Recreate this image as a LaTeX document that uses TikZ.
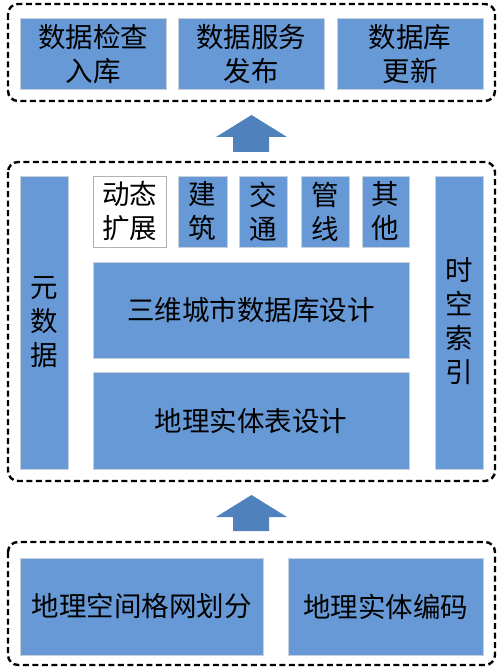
\documentclass[tikz,border=0pt]{standalone}
\usepackage{fontspec}
\setmainfont{Noto Sans CJK SC}
\newfontfamily\cjk{Noto Sans CJK SC}
\definecolor{boxblue}{RGB}{102,153,214}
\definecolor{arrowblue}{RGB}{79,129,189}
\definecolor{edgegray}{RGB}{200,208,220}
\begin{document}
\begin{tikzpicture}[x=1pt,y=-1pt,
  group/.style={draw=black,line width=2.4pt,dash pattern=on 6pt off 3.5pt,rounded corners=10pt},
  bluebox/.style={fill=boxblue,draw=edgegray,line width=0.8pt},
  whitebox/.style={fill=white,draw=gray!60,line width=0.8pt},
  lbl/.style={font=\cjk\fontsize{27.5}{34}\selectfont,align=center,text=black,inner sep=0pt},
  uparrow/.style={fill=arrowblue,draw=none}]
\useasboundingbox (0,0) rectangle (500,671);
% groups
\draw[group] (8,4) rectangle (495,101);
\draw[group] (8,162) rectangle (495,481);
\draw[group] (8,542) rectangle (495,665);
% top row
\draw[bluebox] (20,18) rectangle (166,89);
\node[lbl] (t1) at (93,54) {数据检查\\入库};
\draw[bluebox] (178,18) rectangle (324,89);
\node[lbl] (t2) at (251,54) {数据服务\\发布};
\draw[bluebox] (337,18) rectangle (483,89);
\node[lbl] (t3) at (410,54) {数据库\\更新};
% arrows
\fill[uparrow] (251.5,115) -- (287,137) -- (269,137) -- (269,152) -- (233,152) -- (233,137) -- (216,137) -- cycle;
\fill[uparrow] (251.5,495) -- (287,517) -- (269,517) -- (269,531) -- (233,531) -- (233,517) -- (216,517) -- cycle;
% middle group
\draw[bluebox] (20,176) rectangle (68,469);
\node[lbl] (meta) at (44,322.5) {元\\数\\据};
\draw[bluebox] (435,176) rectangle (483,469);
\node[lbl] (idx) at (459,321) {时\\空\\索\\引};
\draw[whitebox] (93,176) rectangle (166,247);
\node[lbl] (dyn) at (129.5,211.5) {动态\\扩展};
\draw[bluebox] (178,176) rectangle (227,247);
\node[lbl] (bld) at (202.5,211.5) {建\\筑};
\draw[bluebox] (239,176) rectangle (287,247);
\node[lbl] (trf) at (263,211.5) {交\\通};
\draw[bluebox] (301,176) rectangle (349,247);
\node[lbl] (pip) at (325,211.5) {管\\线};
\draw[bluebox] (362,176) rectangle (409,247);
\node[lbl] (oth) at (385.5,211.5) {其\\他};
\draw[bluebox] (93,262) rectangle (409,358);
\node[lbl] (db3d) at (251,310) {三维城市数据库设计};
\draw[bluebox] (93,372) rectangle (409,469);
\node[lbl] (ent) at (251,420.5) {地理实体表设计};
% bottom group
\draw[bluebox] (20,558) rectangle (263,655);
\node[lbl] (grid) at (141.5,606.5) {地理空间格网划分};
\draw[bluebox] (288,558) rectangle (483,655);
\node[lbl] (code) at (385.5,606.5) {地理实体编码};
\end{tikzpicture}
\end{document}
